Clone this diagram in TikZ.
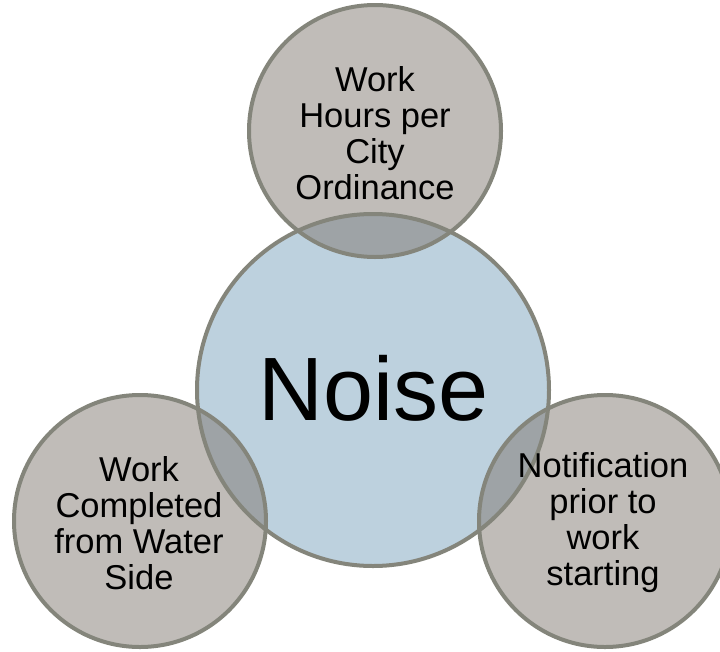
\documentclass[tikz,border=0pt]{standalone}
\usepackage{fontspec}
\setmainfont{Liberation Sans}
\definecolor{bluefill}{RGB}{189,209,222}
\definecolor{grayfill}{RGB}{192,188,184}
\definecolor{overlapfill}{RGB}{158,163,166}
\definecolor{rimcol}{RGB}{132,133,123}
\begin{document}
\begin{tikzpicture}[x=1pt,y=-1pt,
  rim/.style={draw=rimcol,line width=4pt},
  smalltext/.style={align=center,font=\fontsize{34.5}{36}\selectfont,text=black},
  bigtext/.style={font=\fontsize{90}{96}\selectfont,text=black}]
\useasboundingbox (0,0) rectangle (720,651);
% centres
\coordinate (cC) at (373,390);
\coordinate (cT) at (375,131);
\coordinate (cL) at (140,521);
\coordinate (cR) at (605,521);
% fills
\fill[bluefill] (cC) circle (176);
\fill[grayfill] (cT) circle (126);
\fill[grayfill] (cL) circle (126);
\fill[grayfill] (cR) circle (126);
% overlaps
\begin{scope}
  \clip (cC) circle (176);
  \fill[overlapfill] (cT) circle (126);
  \fill[overlapfill] (cL) circle (126);
  \fill[overlapfill] (cR) circle (126);
\end{scope}
% outlines
\draw[rim] (cC) circle (176);
\draw[rim] (cT) circle (126);
\draw[rim] (cL) circle (126);
\draw[rim] (cR) circle (126);
% texts
\node[bigtext] (noise) at (374,388) {Noise};
\node[smalltext] (hours) at (375,133) {Work\\Hours per\\City\\Ordinance};
\node[smalltext] (water) at (139,523) {Work\\Completed\\from Water\\Side};
\node[smalltext] (notif) at (603,523) {Notification\\prior to\\work\\starting};
\end{tikzpicture}
\end{document}
